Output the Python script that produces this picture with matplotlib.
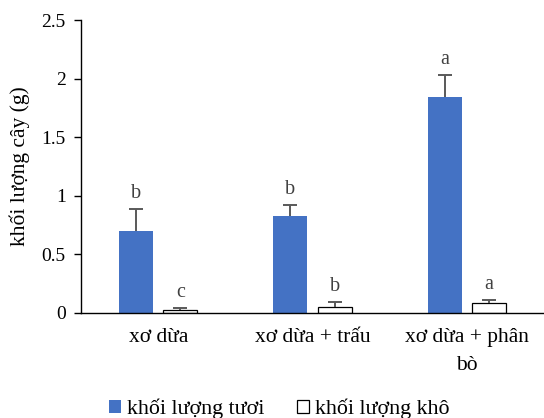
import matplotlib
matplotlib.use("Agg")
import matplotlib.pyplot as plt
import numpy as np

plt.rcParams["font.family"] = ["Liberation Serif", "DejaVu Serif"]

categories = ["xơ dừa", "xơ dừa + trấu", "xơ dừa + phân\nbò"]
fresh = [0.70, 0.83, 1.84]
fresh_err = [0.185, 0.09, 0.19]
dry = [0.026, 0.054, 0.088]
dry_err = [0.014, 0.040, 0.025]
fresh_letters = ["b", "b", "a"]
dry_letters = ["c", "b", "a"]
series_names = ["khối lượng tươi", "khối lượng khô"]

fig = plt.figure(figsize=(5.44, 4.18), dpi=100)
ax = fig.add_axes([0.149, 0.2512, 0.851, 0.7008])

x = np.arange(len(categories))
w = 0.22
off = 0.143
err_color = "#595959"

b1 = ax.bar(x - off, fresh, w, color="#4472C4", label=series_names[0])
b2 = ax.bar(x + off, dry, w, color="white", edgecolor="black", linewidth=0.9,
            label=series_names[1])

# upper-only error bars with a single cap, then the significance letters
for xs, vals, errs, letters in [(x - off, fresh, fresh_err, fresh_letters),
                                (x + off, dry, dry_err, dry_letters)]:
    vals = np.asarray(vals)
    errs = np.asarray(errs)
    ax.errorbar(xs, vals, yerr=[np.zeros_like(errs), errs], fmt="none",
                ecolor=err_color, elinewidth=1.4, capsize=0)
    ax.plot(xs, vals + errs, ls="none", marker="_", markersize=10,
            markeredgewidth=1.4, color=err_color)
    for xi, top, t in zip(xs, vals + errs, letters):
        ax.text(xi, top + 0.05, t, ha="center", va="bottom", fontsize=14.5,
                color="#404040")

ax.set_xlim(-0.5, 2.5)
ax.set_ylim(0, 2.5)
ax.set_yticks([0, 0.5, 1, 1.5, 2, 2.5])
ax.set_yticklabels(["0", "0.5", "1", "1.5", "2", "2.5"])
ax.set_xticks(x)
ax.set_xticklabels(categories, linespacing=1.6)
ax.tick_params(axis="y", labelsize=14, length=5, width=1, pad=6)
ax.tick_params(axis="x", labelsize=15.5, length=0, pad=11)
for side in ["top", "right"]:
    ax.spines[side].set_visible(False)
ax.spines["left"].set_linewidth(1)
ax.spines["bottom"].set_linewidth(1)
ax.set_ylabel("khối lượng cây (g)", fontsize=15.5, labelpad=8)

fig.legend(handles=[b1, b2], labels=series_names, loc="center", ncol=2,
           bbox_to_anchor=(0.513, 0.022), frameon=False, fontsize=15.8,
           handlelength=0.55, handleheight=0.55, handletextpad=0.25,
           columnspacing=1.5)

fig.savefig("out.png", dpi=100)
